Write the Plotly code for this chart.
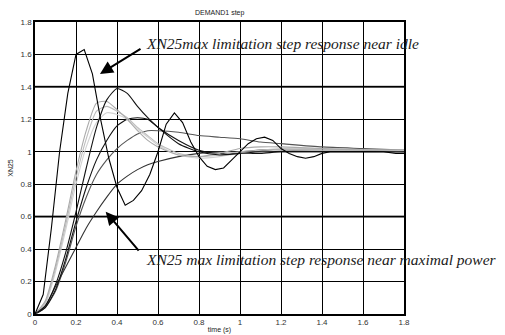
import plotly.graph_objects as go

# ---- data ----
t_idle = [0, .04, .08, .12, .16, .2, .24, .28, .32, .36, .4, .44, .48, .52, .56, .6, .64, .68, .72, .76, .8,
          .84, .88, .92, .96, 1.0, 1.04, 1.08, 1.12, 1.16, 1.2, 1.24, 1.28, 1.32, 1.36, 1.4, 1.44, 1.5, 1.6, 1.7, 1.76, 1.8]
v_idle = [0, .12, .53, 1.0, 1.36, 1.60, 1.63, 1.48, 1.2, .96, .78, .67, .70, .76, .86, 1.0, 1.17, 1.24, 1.18, 1.06, .97,
          .91, .89, .90, .95, 1.0, 1.05, 1.08, 1.09, 1.07, 1.02, .99, .97, .96, .97, .99, 1.0, 1.0, 1.0, 1.0, .99, .99]

t_s = [0, .05, .1, .15, .2, .25, .3, .35, .4, .45, .5, .55, .6, .7, .8, .9, 1.0, 1.1, 1.2, 1.4, 1.6, 1.8]
v_c2 = [0, .05, .18, .38, .63, .9, 1.15, 1.32, 1.39, 1.36, 1.28, 1.21, 1.15, 1.05, 1.0, .98, .99, 1.0, 1.0, 1.0, 1.0, 1.0]
v_c3 = [0, .08, .3, .58, .88, 1.13, 1.3, 1.31, 1.26, 1.2, 1.13, 1.07, 1.03, .98, .97, .99, 1.02, 1.03, 1.03, 1.02, 1.01, 1.0]
v_c4 = [0, .07, .28, .55, .84, 1.08, 1.25, 1.28, 1.25, 1.21, 1.15, 1.1, 1.05, .99, .97, .98, 1.0, 1.01, 1.02, 1.02, 1.01, 1.01]
v_c5 = [0, .06, .26, .52, .8, 1.03, 1.18, 1.24, 1.23, 1.2, 1.14, 1.09, 1.04, .98, .96, .97, .99, 1.0, 1.01, 1.01, 1.01, 1.01]
v_c6 = [0, .04, .15, .34, .57, .78, .95, 1.07, 1.16, 1.2, 1.21, 1.2, 1.15, 1.07, 1.01, .99, .99, .99, 1.0, 1.0, 1.0, 1.0]
v_c7 = [0, .04, .14, .32, .54, .72, .86, .95, 1.02, 1.07, 1.11, 1.13, 1.13, 1.12, 1.1, 1.09, 1.08, 1.06, 1.05, 1.03, 1.02, 1.01]
v_max = [0, .05, .17, .29, .41, .53, .63, .72, .80, .85, .89, .92, .94, .97, .99, 1.0, 1.0, 1.01, 1.01, 1.01, 1.01, 1.01]

x_ticks = [0, 0.2, 0.4, 0.6, 0.8, 1.0, 1.2, 1.4, 1.6, 1.8]
x_labels = ["0", "0.2", "0.4", "0.6", "0.8", "1", "1.2", "1.4", "1.6", "1.8"]
y_ticks = [0, 0.2, 0.4, 0.6, 0.8, 1.0, 1.2, 1.4, 1.6, 1.8]
y_labels = ["0", "0.2", "0.4", "0.6", "0.8", "1", "1.2", "1.4", "1.6", "1.8"]
bold_grid = [0.6, 1.4]

series = [
    (t_s, v_c7, "#555555", "spline"),
    (t_s, v_max, "#333333", "spline"),
    (t_s, v_c6, "#111111", "spline"),
    (t_s, v_c5, "#d2d2d2", "spline"),
    (t_s, v_c4, "#bdbdbd", "spline"),
    (t_s, v_c3, "#aaaaaa", "spline"),
    (t_s, v_c2, "#111111", "spline"),
    (t_idle, v_idle, "#000000", "linear"),
]

fig = go.Figure()
for xs, ys, col, shp in series:
    line = dict(color=col, width=1.1, shape=shp)
    if shp == "spline":
        line["smoothing"] = 0.6
    fig.add_trace(go.Scatter(x=xs, y=ys, mode="lines", line=line, showlegend=False, hoverinfo="skip"))

for g in bold_grid:
    fig.add_shape(type="line", xref="paper", x0=0, x1=1, yref="y", y0=g, y1=g,
                  line=dict(color="#555555", width=2.2), layer="below")

serif = dict(family="Liberation Serif", size=15.5, color="#1a1a1a")
fig.add_annotation(x=0.53, y=1.665, xref="x", yref="y", xanchor="left", yanchor="middle",
                   text="<i>XN25max limitation step response near idle</i>", showarrow=False, font=serif)
fig.add_annotation(x=0.53, y=0.333, xref="x", yref="y", xanchor="left", yanchor="middle",
                   text="<i>XN25 max limitation step response near maximal power</i>", showarrow=False, font=serif)
fig.add_annotation(x=0.317, y=1.48, ax=0.522, ay=1.64, xref="x", yref="y", axref="x", ayref="y",
                   text="", showarrow=True, arrowhead=2, arrowsize=1.3, arrowwidth=2, arrowcolor="black")
fig.add_annotation(x=0.345, y=0.63, ax=0.512, ay=0.382, xref="x", yref="y", axref="x", ayref="y",
                   text="", showarrow=True, arrowhead=2, arrowsize=1.3, arrowwidth=2, arrowcolor="black")

axis_font = dict(family="Liberation Sans", size=8, color="#333333")
fig.update_layout(
    width=505, height=335,
    margin=dict(l=35, r=101, t=22, b=21, autoexpand=False),
    paper_bgcolor="white", plot_bgcolor="white",
    title=dict(text="DEMAND1 step", x=0.435, xanchor="center", y=0.962, yanchor="middle",
               font=dict(family="Liberation Sans", size=7, color="#222222")),
    xaxis=dict(range=[0, 1.8], tickvals=x_ticks, ticktext=x_labels, showgrid=True, gridcolor="black",
               gridwidth=1, showline=True, linecolor="black", linewidth=1.5, mirror=True, zeroline=False,
               ticks="inside", ticklen=3, tickcolor="black", tickfont=axis_font, automargin=False,
               title=dict(text="time (s)", font=dict(family="Liberation Sans", size=7, color="#222222"), standoff=1)),
    yaxis=dict(range=[0, 1.8], tickvals=y_ticks, ticktext=y_labels, showgrid=True, gridcolor="black",
               gridwidth=1, showline=True, linecolor="black", linewidth=1.5, mirror=True, zeroline=False,
               ticks="inside", ticklen=3, tickcolor="black", tickfont=axis_font, automargin=False,
               title=dict(text="XN25", font=dict(family="Liberation Sans", size=7, color="#222222"), standoff=6)),
)

fig.write_html("out.html")
